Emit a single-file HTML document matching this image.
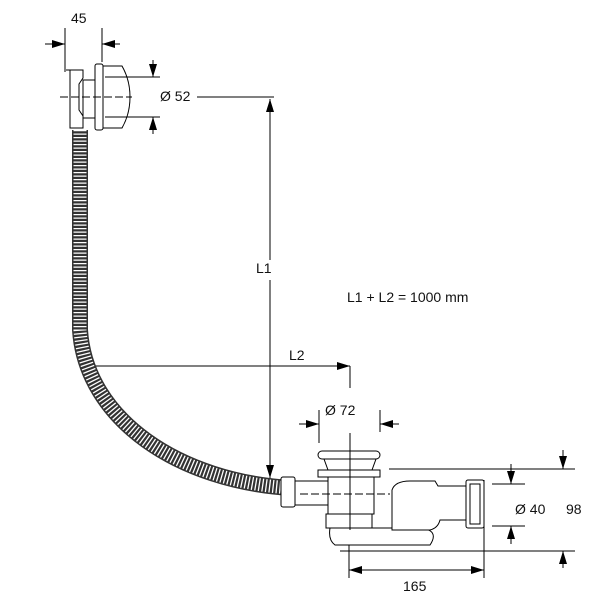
<!DOCTYPE html>
<html><head><meta charset="utf-8"><style>html,body{margin:0;padding:0;background:#fff}svg{display:block}text{font-family:"Liberation Sans",Arial,sans-serif;font-size:14px;fill:#111}</style></head><body>
<svg width="600" height="600" viewBox="0 0 600 600" xmlns="http://www.w3.org/2000/svg">
<defs>
<marker id="a" viewBox="0 0 10 10" refX="10" refY="5" markerWidth="13" markerHeight="8" orient="auto-start-reverse" markerUnits="userSpaceOnUse" preserveAspectRatio="none"><path d="M0,0 L10,5 L0,10z" fill="#000"/></marker>
</defs>
<g stroke="#000" stroke-width="1" fill="none">
<line x1="65" y1="28" x2="65" y2="72"/><line x1="102" y1="28" x2="102" y2="62"/>
<line x1="45" y1="44" x2="65" y2="44" marker-end="url(#a)"/>
<line x1="120" y1="44" x2="102" y2="44" marker-end="url(#a)"/>
<line x1="108" y1="77" x2="160" y2="77"/><line x1="108" y1="117" x2="160" y2="117"/>
<line x1="153" y1="60" x2="153" y2="77" marker-end="url(#a)"/>
<line x1="153" y1="134" x2="153" y2="117" marker-end="url(#a)"/>
<line x1="197" y1="97" x2="274" y2="97"/>
<line x1="270" y1="260" x2="270" y2="99" marker-end="url(#a)"/>
<line x1="270" y1="280" x2="270" y2="478" marker-end="url(#a)"/>
<line x1="80" y1="366" x2="350" y2="366" marker-end="url(#a)"/>
<line x1="350" y1="366" x2="350" y2="388"/>
<line x1="319" y1="410" x2="319" y2="443"/><line x1="380" y1="410" x2="380" y2="432"/>
<line x1="299" y1="424" x2="319" y2="424" marker-end="url(#a)"/>
<line x1="399" y1="424" x2="380" y2="424" marker-end="url(#a)"/>
<line x1="492" y1="484" x2="525" y2="484"/><line x1="492" y1="526" x2="525" y2="526"/>
<line x1="511" y1="464" x2="511" y2="484" marker-end="url(#a)"/>
<line x1="511" y1="544" x2="511" y2="526" marker-end="url(#a)"/>
<line x1="389" y1="469" x2="575" y2="469"/><line x1="340" y1="551" x2="575" y2="551"/>
<line x1="563" y1="450" x2="563" y2="469" marker-end="url(#a)"/>
<line x1="563" y1="568" x2="563" y2="551" marker-end="url(#a)"/>
<line x1="349" y1="540" x2="349" y2="578"/><line x1="484" y1="480" x2="484" y2="578"/>
<line x1="349" y1="570" x2="484" y2="570" marker-start="url(#a)" marker-end="url(#a)"/>
</g>
<path d="M80,130 L80,330 C86,420 180,482 292,488" stroke="#333" stroke-width="16" fill="none"/>
<path d="M80,130 L80,330 C86,420 180,482 292,488" stroke="#fff" stroke-width="13" fill="none" stroke-dasharray="1.3 2.2"/>
<g stroke="#000" stroke-width="1" fill="#fff">
<path d="M66,70 H83 V78 L79,84 V110 L83,116 V128 H70 V70z"/>
<rect x="83" y="80" width="13" height="38"/>
<rect x="95" y="64" width="8" height="66" rx="2"/>
<path d="M103,66 H122 Q130,80 130,97 Q130,114 122,128 H103z"/>
<line x1="105" y1="77" x2="128" y2="77"/><line x1="105" y1="117" x2="128" y2="117"/>
<line x1="60" y1="97" x2="132" y2="97" stroke-dasharray="8 3"/>
</g>
<g stroke="#000" stroke-width="1" fill="#fff">
<rect x="281" y="477" width="14" height="30" rx="2"/>
<rect x="295" y="481" width="45" height="24"/>
<rect x="318" y="451" width="62" height="8" rx="4"/>
<path d="M324,459 H376 L372,470 H328z"/>
<rect x="318" y="470" width="62" height="7"/>
<rect x="328" y="477" width="46" height="37"/>
<rect x="326" y="514" width="46" height="14"/>
<path d="M330,528 H420 Q440,530 430,545 H335 Q328,540 330,528z"/>
<path d="M392,490 Q395,481 410,481 H435 L438,486 H466 V520 H440 Q438,528 430,530 H392z"/>
<rect x="466" y="480" width="18" height="48" rx="2"/>
<rect x="470" y="484" width="10" height="40" fill="none"/>
<line x1="300" y1="494" x2="390" y2="494" stroke-dasharray="8 3"/>
<line x1="350" y1="433" x2="350" y2="530"/>
</g>
<text x="71" y="23">45</text>
<text x="160" y="101">Ø 52</text>
<text x="256" y="273">L1</text>
<text x="289" y="360">L2</text>
<text x="347" y="302">L1 + L2 = 1000 mm</text>
<text x="325" y="415">Ø 72</text>
<text x="515" y="514">Ø 40</text>
<text x="566" y="514">98</text>
<text x="403" y="591">165</text>
</svg>
</body></html>
